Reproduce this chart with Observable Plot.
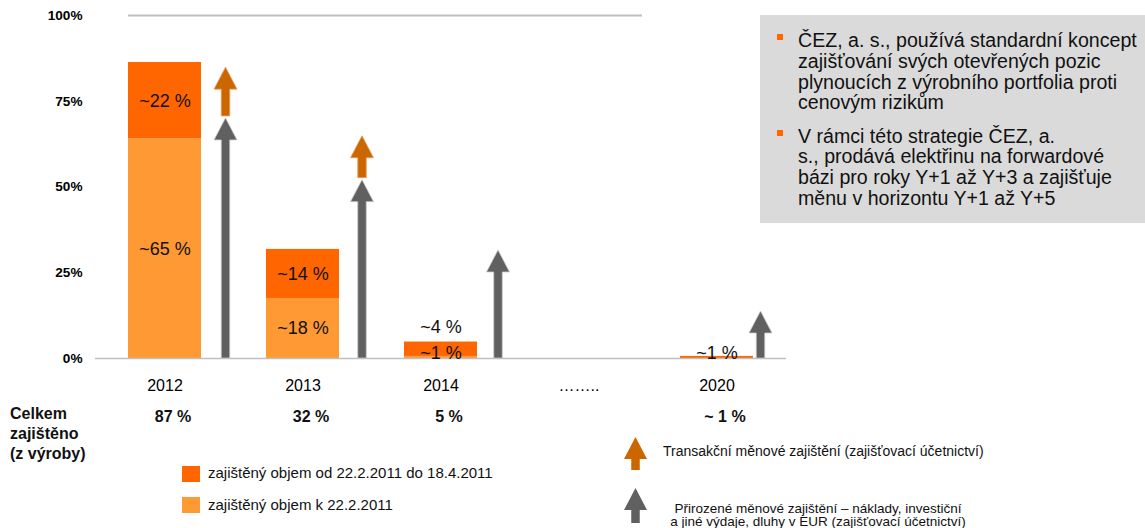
<!DOCTYPE html>
<html><head><meta charset="utf-8">
<script src="https://cdn.jsdelivr.net/npm/d3@7"></script>
<script src="https://cdn.jsdelivr.net/npm/@observablehq/plot@0.6"></script>
<style>
body{margin:0;background:#fff;font-family:"Liberation Sans",Arial,sans-serif;}
#wrap{position:relative;width:1145px;height:528px;overflow:hidden;}
#wrap > svg{position:absolute;left:0;top:0;}
#box{position:absolute;left:760px;top:15px;width:385px;height:208px;background:#dadada;color:#111;font-size:19.6px;line-height:20.7px;}
#box p{position:relative;margin:0;padding-left:38px;white-space:nowrap;}
#box p .b{position:absolute;left:17px;top:4px;width:6px;height:6px;background:#ff6600;}
#box p.p1{padding-top:15.2px;}
#box p.p1 .b{top:19px;}
#box p.p2{margin-top:12.6px;}
</style></head><body><div id="wrap"></div>
<script>
// ---- data ----
const categories = ["2012", "2013", "2014", "……..", "2020"];
const hedgedBefore = [64, 17.5, 0.6, null, 0];        // zajištěný objem k 22.2.2011 (%)
const hedgedAdded  = [22.3, 14.3, 4.2, null, 0.6];    // zajištěný objem od 22.2.2011 do 18.4.2011 (%)
const labelsBefore = ["~65 %", "~18 %", "~1 %", "", ""];
const labelsAdded  = ["~22 %", "~14 %", "~4 %", "", "~1 %"];
const totals       = ["87 %", "32 %", "5 %", "", "~ 1 %"];
const naturalHedge = [70, 52, 31.5, null, 13.7];      // grey arrows (%)
const transactionHedge = [84.8, 64.8, null, null, null]; // orange arrows, top (%)
const yTicks = [0, 25, 50, 75, 100];
const seriesNames = ["zajištěný objem k 22.2.2011", "zajištěný objem od 22.2.2011 do 18.4.2011"];
const seriesColors = ["#ff9933", "#ff6600"];
const legendArrows = ["Transakční měnové zajištění (zajišťovací účetnictví)",
  "Přirozené měnové zajištění – náklady, investiční\na jiné výdaje, dluhy v EUR (zajišťovací účetnictví)"];
const totalTitle = "Celkem\nzajištěno\n(z výroby)";
const notes = [
  ["ČEZ, a. s., používá standardní koncept", "zajišťování svých otevřených pozic", "plynoucích z výrobního portfolia proti", "cenovým rizikům"],
  ["V rámci této strategie ČEZ, a.", "s., prodává elektřinu na forwardové", "bázi pro roky Y+1 až Y+3 a zajišťuje", "měnu v horizontu Y+1 až Y+5"]
];
// layout: horizontal offset of arrows from the bar centre (px)
const arrowShift = [61, 59.5, 57.5, 0, 44];

// ---- tables ----
const rows = [];
categories.forEach((c, i) => {
  if (hedgedBefore[i] != null) rows.push({cat: c, s: seriesNames[0], v: hedgedBefore[i]});
  if (hedgedAdded[i] != null) rows.push({cat: c, s: seriesNames[1], v: hedgedAdded[i]});
});
const lblBig = [], lblTiny = [], lblAbove = [];
categories.forEach((c, i) => {
  const b = hedgedBefore[i] || 0, a = hedgedAdded[i] || 0;
  if (labelsBefore[i]) (b < 2 ? lblTiny : lblBig).push({cat: c, y: b / 2, t: labelsBefore[i]});
  if (labelsAdded[i]) {
    if (a < 2) lblTiny.push({cat: c, y: b + a / 2, t: labelsAdded[i]});
    else if (a < 8 && labelsBefore[i]) lblAbove.push({cat: c, y: b + a, t: labelsAdded[i]});
    else lblBig.push({cat: c, y: b + a / 2, t: labelsAdded[i]});
  }
});
const totalRows = categories.map((c, i) => ({cat: c, t: totals[i]})).filter(d => d.t);

function arrowPath(cx, yBase, yTip) {
  const hw = 11.5, sw = 4.25, hh = 22, yh = yTip + hh;
  return `M${cx - sw},${yBase}V${yh}H${cx - hw}L${cx},${yTip}L${cx + hw},${yh}H${cx + sw}V${yBase}Z`;
}

function arrowsMark(index, scales) {
  const g = d3.create("svg:g");
  const x = scales.x, y = scales.y;
  const bw = typeof x.bandwidth === "function" ? x.bandwidth() : 0;
  categories.forEach((c, i) => {
    const cx = x(c) + bw / 2 + arrowShift[i];
    if (naturalHedge[i] != null)
      g.append("path").attr("d", arrowPath(cx, y(0), y(naturalHedge[i])))
        .attr("fill", "#606060").attr("stroke", "#c8c8c8").attr("stroke-width", 0.8);
    if (transactionHedge[i] != null)
      g.append("path").attr("d", arrowPath(cx, y(naturalHedge[i]) - 2, y(transactionHedge[i])))
        .attr("fill", "#cc6600").attr("stroke", "#e6a060").attr("stroke-width", 0.8);
  });
  return g.node();
}

const FONT = "'Liberation Sans', Arial, sans-serif";
const chart = Plot.plot({
  width: 1145, height: 528,
  marginLeft: 95, marginRight: 359, marginTop: 15, marginBottom: 170,
  style: {fontFamily: FONT, background: "transparent", color: "#000"},
  x: {domain: categories, paddingInner: 0.47, paddingOuter: 0.235, align: 0.5},
  y: {domain: [0, 100]},
  color: {domain: seriesNames, range: seriesColors},
  marks: [
    Plot.barY(rows, Plot.stackY({x: "cat", y: "v", fill: "s", order: null})),
    Plot.ruleY([0], {stroke: "#bfbfbf", strokeWidth: 1.5}),
    Plot.ruleY([100], {stroke: "#bfbfbf", strokeWidth: 2, insetLeft: 33, insetRight: 144}),
    Plot.axisY({ticks: yTicks, tickFormat: d => d + "%", tickSize: 0, tickPadding: 13, fontSize: 13.6, fontWeight: "bold", label: null}),
    Plot.axisX({tickSize: 0, tickPadding: 21, fontSize: 16, label: null}),
    Plot.text(lblBig, {x: "cat", y: "y", text: "t", fontSize: 18, fill: "#111"}),
    Plot.text(lblTiny, {x: "cat", y: "y", text: "t", fontSize: 18, fill: "#111", dy: -4}),
    Plot.text(lblAbove, {x: "cat", y: "y", text: "t", fontSize: 18, fill: "#111", dy: -15}),
    Plot.text(totalRows, {x: "cat", text: "t", frameAnchor: "bottom", dy: 63.5, dx: 8, fontSize: 16, fontWeight: "bold", fill: "#111"}),
    Plot.text([totalTitle], {text: d => d, frameAnchor: "bottom-left", dx: -85.5, dy: 45.6, textAnchor: "start", lineAnchor: "top", lineHeight: 1.27, fontSize: 16, fontWeight: "bold", fill: "#111"}),
    arrowsMark
  ]
});
const wrap = document.getElementById("wrap");
wrap.appendChild(chart);

// ---- legends (overlay svg) ----
const lg = d3.select(wrap).append("svg").attr("width", 1145).attr("height", 528)
  .style("font-family", FONT).style("pointer-events", "none");
[[466, 478.3], [497, 510]].forEach(([ry, ty], k) => {
  const idx = 1 - k;
  lg.append("rect").attr("x", 182).attr("y", ry).attr("width", 18).attr("height", 16).attr("fill", seriesColors[idx]);
  lg.append("text").attr("x", 208).attr("y", ty).attr("font-size", 15).attr("fill", "#111").text(seriesNames[idx]);
});
lg.append("path").attr("d", arrowPath(635.5, 470, 437)).attr("fill", "#cc6600");
lg.append("path").attr("d", arrowPath(635.5, 523, 488)).attr("fill", "#606060");
lg.append("text").attr("x", 663).attr("y", 455.5).attr("font-size", 14).attr("fill", "#111").text(legendArrows[0]);
legendArrows[1].split("\n").forEach((line, j) => {
  lg.append("text").attr("x", 818).attr("y", 512.7 + j * 13.3).attr("text-anchor", "middle")
    .attr("font-size", 13.5).attr("fill", "#111").text(line);
});

// ---- notes box ----
const box = d3.select(wrap).append("div").attr("id", "box");
notes.forEach((lines, k) => {
  const p = box.append("p").attr("class", "p" + (k + 1));
  p.append("span").attr("class", "b");
  p.append("span").html(lines.map(l => l.replace(/&/g, "&amp;")).join("<br>"));
});
</script></body></html>
